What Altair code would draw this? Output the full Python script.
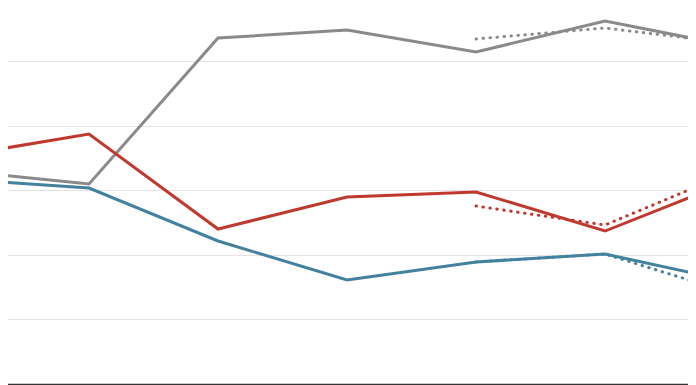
import altair as alt
import pandas as pd

# x index: 0..6 (points spaced evenly); visible window shows part of the range
x_idx = [0, 1, 2, 3, 4, 5, 6]
gray_solid = [32.97, 30.96, 53.56, 54.80, 51.39, 56.19, 52.24]
red_solid = [35.34, 38.70, 23.99, 28.95, 29.72, 23.68, 31.58]
blue_solid = [31.69, 30.34, 22.14, 16.10, 18.89, 20.12, 15.79]

x_dot = [4, 5, 6]
gray_dot = [53.41, 55.11, 52.69]
red_dot = [27.55, 24.61, 32.97]
blue_dot = [18.89, 20.12, 13.93]

series = ["gray", "red", "blue"]
colors = ["#8a8a8a", "#c0392f", "#43819f"]

rows = []
for name, vals in zip(series, [gray_solid, red_solid, blue_solid]):
    for x, v in zip(x_idx, vals):
        rows.append({"x": x, "v": v, "s": name, "kind": "solid"})
for name, vals in zip(series, [gray_dot, red_dot, blue_dot]):
    for x, v in zip(x_dot, vals):
        rows.append({"x": x, "v": v, "s": name, "kind": "dot"})
df = pd.DataFrame(rows)

xs = alt.Scale(domain=[0.310, 5.705], nice=False, zero=False)
ys = alt.Scale(domain=[0, 59.44], nice=False, zero=False)
col = alt.Scale(domain=series, range=colors)

xenc = alt.X("x:Q", scale=xs, axis=alt.Axis(labels=False, ticks=False, grid=False,
                                             domainColor="#333333", domainWidth=1.5, title=None))
yenc = alt.Y("v:Q", scale=ys, axis=alt.Axis(labels=False, ticks=False, domain=False,
                                             values=[10, 20, 30, 40, 50],
                                             gridColor="#e3e3e3", gridWidth=1, title=None))

solid = alt.Chart(df).transform_filter(alt.datum.kind == "solid").mark_line(
    strokeWidth=3, clip=True
).encode(x=xenc, y=yenc, color=alt.Color("s:N", scale=col, legend=None), detail="s:N")

dot = alt.Chart(df).transform_filter(alt.datum.kind == "dot").mark_line(
    strokeWidth=3, strokeDash=[0.5, 6.5], strokeCap="round", clip=True
).encode(x=xenc, y=yenc, color=alt.Color("s:N", scale=col, legend=None), detail="s:N")

chart = alt.layer(solid, dot).properties(
    width=696, height=384,
    autosize=alt.AutoSizeParams(type="none"),
    padding={"left": -8, "top": -8, "right": -8, "bottom": 2},
).configure_view(stroke=None)

chart.save("out.html", embed_options={"renderer": "svg", "actions": False})
